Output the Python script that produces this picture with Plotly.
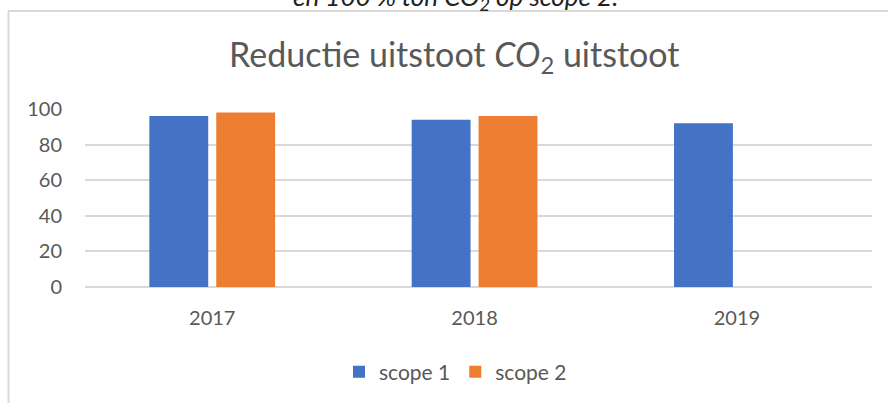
import plotly.graph_objects as go

years = ["2017", "2018", "2019"]
scope1 = [96, 94, 92]
scope2 = [98, 96, None]
series_names = ["scope 1", "scope 2"]
colors = ["#4472C4", "#ED7D31"]
y_ticks = [0, 20, 40, 60, 80, 100]

W, H = 888, 403
L, R, T, B = 85, 16, 109, 403 - 287
pw = W - L - R
ph = H - T - B

def px(x):
    return (x - L) / pw

def py(y):
    return (H - B - y) / ph

font = "Lato, 'Open Sans', sans-serif"
grey = "#595959"

fig = go.Figure()
for name, vals, c in zip(series_names, [scope1, scope2], colors):
    fig.add_trace(go.Bar(x=years, y=vals, name=name, marker=dict(color=c, line=dict(width=0))))

fig.update_layout(
    width=W, height=H,
    margin=dict(l=L, r=R, t=T, b=B, autoexpand=False),
    paper_bgcolor="white", plot_bgcolor="white",
    barmode="group", bargap=0.49, bargroupgap=0.12,
    showlegend=True,
    legend=dict(orientation="h", x=px(339), xanchor="left", y=py(372), yanchor="middle",
                font=dict(family=font, size=21, color=grey), itemwidth=30,
                traceorder="normal"),
    font=dict(family=font, color=grey),
)
fig.update_xaxes(range=[-0.485, 2.515], showgrid=False, showline=False, ticks="",
                 tickfont=dict(size=20, color=grey, family=font), ticklabelstandoff=17)
fig.update_yaxes(range=[0, 100], tickvals=y_ticks, showgrid=True, gridcolor="#d9d9d9", gridwidth=1.5,
                 zeroline=True, zerolinecolor="#d9d9d9", zerolinewidth=1.5,
                 tickfont=dict(size=20, color=grey, family=font), ticks="", ticklabelstandoff=22)

fig.add_annotation(text="Reductie uitstoot <i>CO</i><sub>2</sub> uitstoot", xref="paper", yref="paper",
                   x=px(454), y=py(56), xanchor="center", yanchor="middle", showarrow=False,
                   font=dict(family=font, size=34, color=grey))
fig.add_annotation(text="<i>en 100 % ton CO<sub>2</sub> op scope 2.</i>", xref="paper", yref="paper",
                   x=px(455), y=py(-3), xanchor="center", yanchor="middle", showarrow=False,
                   font=dict(family=font, size=26, color="#222222"))
# chart border
fig.add_shape(type="line", xref="paper", yref="paper", x0=px(8), x1=px(900), y0=py(11), y1=py(11),
              line=dict(color="#d9d9d9", width=2))
fig.add_shape(type="line", xref="paper", yref="paper", x0=px(8.5), x1=px(8.5), y0=py(11), y1=py(420),
              line=dict(color="#d9d9d9", width=2))

fig.write_html("out.html", config={"displayModeBar": False},
               post_script="document.body.style.margin='0';document.body.style.overflow='hidden';")
